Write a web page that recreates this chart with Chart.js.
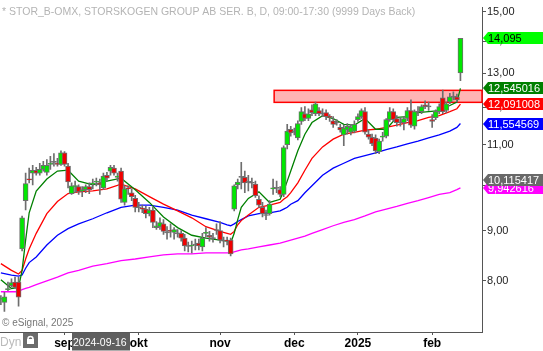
<!DOCTYPE html>
<html>
<head>
<meta charset="utf-8">
<title>STOR_B-OMX</title>
<script src="https://cdn.jsdelivr.net/npm/chart.js@4.4.1/dist/chart.umd.min.js"></script>
<style>
  html, body { margin: 0; padding: 0; background: #fff; }
  #wrap { width: 543px; height: 351px; position: relative; }
</style>
</head>
<body>
<div id="wrap"><canvas id="chart"></canvas></div>
<script>
// daily candles, one per trading day (index 0 = 2024-08-07, last = 2025-02-13)
const openPrices = [
  7.66, 7.61, 7.84, 7.91, 7.98, 7.98, 8.62, 9.65, 10.15, 10.29,
  10.36, 10.29, 10.38, 10.31, 10.50, 10.55, 10.53, 10.50, 10.79, 10.46,
  9.81, 9.97, 9.97, 9.87, 9.90, 9.97, 10.03, 10.08, 10.06, 9.94,
  10.24, 10.34, 10.41, 10.19, 10.34, 9.61, 9.94, 9.83, 9.70, 9.50,
  9.48, 9.46, 9.36, 9.44, 9.06, 9.08, 9.14, 8.96, 9.00, 8.96,
  8.94, 8.94, 8.84, 8.68, 8.68, 8.70, 8.74, 8.66, 8.94, 8.90,
  8.84, 9.00, 9.00, 8.78, 8.80, 8.80, 9.46, 10.01, 10.19, 10.19,
  10.08, 10.06, 10.03, 9.68, 9.50, 9.33, 9.36, 9.92, 9.94, 9.90,
  9.79, 11.00, 11.40, 11.32, 11.17, 11.61, 11.82, 11.69, 11.93, 11.82,
  11.91, 11.82, 11.85, 11.74, 11.63, 11.58, 11.45, 11.25, 11.38, 11.32,
  11.35, 11.66, 11.74, 11.88, 11.27, 11.19, 11.17, 10.82, 11.19, 11.22,
  11.66, 11.88, 11.69, 11.58, 11.58, 11.69, 11.91, 11.48, 11.88, 11.88,
  12.07, 12.02, 11.66, 11.71, 11.88, 12.27, 11.91, 12.15, 12.30, 12.30,
  13.00
];
const highPrices = [
  7.73, 7.79, 7.98, 8.04, 8.07, 8.07, 9.31, 10.29, 10.41, 10.48,
  10.43, 10.53, 10.58, 10.62, 10.70, 10.77, 10.65, 10.84, 10.82, 10.53,
  10.06, 10.10, 10.01, 9.97, 10.01, 10.06, 10.15, 10.17, 10.15, 10.29,
  10.31, 10.48, 10.48, 10.29, 10.41, 9.99, 9.99, 9.92, 9.77, 9.61,
  9.55, 9.52, 9.50, 9.50, 9.19, 9.27, 9.23, 9.08, 9.14, 9.06,
  9.02, 9.00, 8.92, 8.76, 8.78, 8.82, 8.82, 8.94, 9.06, 8.98,
  8.94, 9.14, 9.19, 8.86, 8.86, 8.84, 10.01, 10.15, 10.55, 10.34,
  10.24, 10.17, 10.10, 9.76, 9.61, 9.44, 9.65, 10.15, 10.10, 9.97,
  10.97, 11.53, 11.48, 11.43, 11.63, 11.99, 12.02, 11.96, 12.07, 12.15,
  11.99, 11.96, 11.93, 11.80, 11.74, 11.66, 11.53, 11.51, 11.55, 11.53,
  11.63, 11.82, 11.96, 11.99, 11.38, 11.27, 11.25, 11.14, 11.32, 11.69,
  11.99, 11.96, 11.77, 11.71, 11.74, 11.99, 12.21, 11.93, 12.02, 12.07,
  12.18, 12.15, 11.80, 11.93, 12.10, 12.49, 12.15, 12.40, 12.44, 12.38,
  14.10
];
const lowPrices = [
  7.57, 7.45, 7.82, 7.89, 7.86, 7.54, 8.58, 9.44, 10.06, 10.01,
  10.24, 10.24, 10.34, 10.24, 10.38, 10.46, 10.46, 10.48, 10.46, 9.94,
  9.79, 9.83, 9.79, 9.74, 9.83, 9.81, 9.92, 9.99, 9.79, 9.90,
  10.10, 10.24, 10.24, 10.10, 9.61, 9.55, 9.79, 9.65, 9.40, 9.40,
  9.38, 9.27, 9.31, 9.06, 9.02, 9.02, 8.92, 8.82, 8.86, 8.82,
  8.86, 8.78, 8.58, 8.56, 8.54, 8.60, 8.60, 8.58, 8.86, 8.78,
  8.76, 8.92, 8.74, 8.66, 8.70, 8.48, 9.42, 9.92, 9.92, 9.83,
  9.87, 9.94, 9.72, 9.50, 9.29, 9.23, 9.33, 9.79, 9.83, 9.74,
  9.74, 10.89, 11.22, 11.25, 11.12, 11.53, 11.63, 11.63, 11.77, 11.77,
  11.77, 11.74, 11.66, 11.61, 11.45, 11.51, 11.32, 10.97, 11.27, 11.25,
  11.30, 11.61, 11.69, 11.27, 11.14, 10.97, 10.77, 10.77, 11.09, 11.17,
  11.61, 11.61, 11.48, 11.48, 11.38, 11.63, 11.45, 11.40, 11.77, 11.82,
  11.96, 11.91, 11.45, 11.66, 11.82, 11.82, 11.85, 12.10, 12.21, 12.15,
  12.77
];
const closePrices = [
  7.68, 7.71, 7.86, 7.97, 7.88, 7.70, 9.27, 10.04, 10.13, 10.36,
  10.29, 10.38, 10.48, 10.48, 10.53, 10.56, 10.50, 10.79, 10.50, 10.08,
  9.99, 9.99, 9.85, 9.90, 9.97, 9.90, 10.06, 10.10, 10.01, 10.22,
  10.17, 10.43, 10.29, 10.22, 9.68, 9.92, 9.92, 9.74, 9.50, 9.49,
  9.46, 9.36, 9.44, 9.17, 9.10, 9.17, 8.98, 8.95, 8.98, 9.02,
  8.93, 8.84, 8.68, 8.67, 8.70, 8.71, 8.68, 8.84, 8.96, 8.86,
  8.83, 9.01, 8.80, 8.79, 8.78, 8.52, 9.99, 10.08, 10.20, 10.06,
  10.07, 10.05, 9.76, 9.55, 9.36, 9.32, 9.57, 9.94, 9.93, 9.79,
  10.92, 11.35, 11.30, 11.33, 11.55, 11.88, 11.69, 11.82, 11.85, 12.10,
  11.82, 11.81, 11.74, 11.72, 11.53, 11.57, 11.38, 11.43, 11.48, 11.45,
  11.53, 11.74, 11.91, 11.32, 11.19, 11.02, 10.84, 11.09, 11.22, 11.66,
  11.88, 11.66, 11.58, 11.57, 11.69, 11.91, 11.51, 11.88, 11.87, 12.02,
  12.02, 12.01, 11.61, 11.88, 12.02, 11.88, 12.10, 12.30, 12.29, 12.21,
  14.095
];

// moving averages, read at these candle indices
const maIndex = [
  0, 3, 5, 6, 7, 8, 10, 13, 16, 19, 22, 26, 30, 34, 38, 42, 46, 50, 54, 58,
  62, 64, 65, 66, 67, 68, 70, 73, 76, 79, 80, 81, 82, 84, 86, 88, 91, 94, 97, 100,
  103, 106, 109, 112, 115, 118, 121, 124, 127, 129, 130
];
const maGreen = [
  8.02, 7.86, 7.88, 8.20, 8.80, 9.38, 9.87, 10.15, 10.34, 10.36,
  10.10, 10.01, 10.10, 10.17, 9.90, 9.61, 9.29, 9.06, 8.90, 8.84,
  8.80, 8.78, 8.74, 8.94, 9.23, 9.50, 9.70, 9.85, 9.61, 9.68,
  9.87, 10.10, 10.34, 10.84, 11.27, 11.58, 11.77, 11.69, 11.53, 11.51,
  11.69, 11.40, 11.40, 11.72, 11.74, 11.85, 11.88, 11.91, 12.05, 12.15,
  12.545016
];
const maRed = [
  8.33, 8.20, 8.13, 8.20, 8.42, 8.62, 8.94, 9.36, 9.63, 9.81,
  9.85, 9.87, 9.92, 10.03, 9.92, 9.74, 9.57, 9.42, 9.27, 9.08,
  8.98, 8.94, 8.92, 8.98, 9.12, 9.21, 9.33, 9.50, 9.55, 9.61,
  9.68, 9.74, 9.83, 10.06, 10.36, 10.65, 10.94, 11.14, 11.27, 11.32,
  11.38, 11.40, 11.45, 11.51, 11.58, 11.63, 11.72, 11.77, 11.88, 11.96,
  12.091008
];
const maBlue = [
  8.15, 8.11, 8.09, 8.11, 8.24, 8.35, 8.46, 8.70, 8.90, 9.04,
  9.14, 9.25, 9.38, 9.50, 9.55, 9.55, 9.50, 9.44, 9.33, 9.25,
  9.17, 9.12, 9.10, 9.14, 9.19, 9.23, 9.31, 9.36, 9.38, 9.42,
  9.46, 9.50, 9.57, 9.65, 9.83, 9.99, 10.24, 10.41, 10.53, 10.65,
  10.72, 10.79, 10.87, 10.94, 11.02, 11.09, 11.17, 11.25, 11.35, 11.45,
  11.554569
];
const maMagenta = [
  7.80, 7.80, 7.80, 7.84, 7.86, 7.88, 7.93, 8.00, 8.07, 8.15,
  8.20, 8.28, 8.33, 8.39, 8.42, 8.46, 8.50, 8.52, 8.52, 8.54,
  8.54, 8.54, 8.54, 8.56, 8.58, 8.60, 8.62, 8.66, 8.70, 8.74,
  8.76, 8.78, 8.80, 8.84, 8.88, 8.94, 9.02, 9.10, 9.17, 9.23,
  9.31, 9.40, 9.46, 9.52, 9.59, 9.65, 9.72, 9.79, 9.83, 9.90,
  9.942616
];

const monthTickIndex = [18, 39, 62, 83, 101, 122];
const monthTickLabels = ['sep', 'okt', 'nov', 'dec', '2025', 'feb'];
const priceTicks = [8, 9, 10, 11, 12, 13, 14, 15];

// price tags on the right axis (drawn in this order)
const tagValues = [9.942616, 10.115417, 11.554569, 12.091008, 12.545016, 14.095];
const tagColors = ['#ff00ff', '#696969', '#0000ff', '#ff0000', '#008000', '#00ff00'];
const tagTextColors = ['#fff', '#fff', '#fff', '#fff', '#fff', '#000'];

// resistance zone
const zoneLow = 12.14;
const zoneHigh = 12.485;
const zoneStartIndex = 77.3;

const titleText = '* STOR_B-OMX, STORSKOGEN GROUP AB SER. B, D, 09:00-17:30 (9999 Days Back)';
const cursorDate = '2024-09-16';

const FONT = '"Liberation Sans", Arial, sans-serif';

const bodyColors = openPrices.map(function(o, i) {
  const c = closePrices[i];
  if (Math.abs(c - o) < 0.015) return '#707070';
  return c > o ? '#00e800' : '#f00000';
});

function maPoints(values) {
  return maIndex.map((x, j) => ({ x: x, y: values[j] }));
}

const overlayPlugin = {
  id: 'overlay',
  beforeDatasetsDraw(chart) {
    const ctx = chart.ctx;
    const xs = chart.scales.x, ys = chart.scales.y;
    const left = xs.getPixelForValue(zoneStartIndex);
    const right = chart.chartArea.right;
    const top = ys.getPixelForValue(zoneHigh);
    const bottom = ys.getPixelForValue(zoneLow);
    ctx.save();
    ctx.fillStyle = '#ffb4b4';
    ctx.fillRect(left, top, right - left, bottom - top);
    ctx.strokeStyle = '#ff0000';
    ctx.lineWidth = 1.5;
    ctx.strokeRect(left, top, right - left, bottom - top);
    ctx.restore();
  },
  afterDraw(chart) {
    const ctx = chart.ctx;
    const ys = chart.scales.y;
    const axisX = chart.chartArea.right;
    ctx.save();

    // title and copyright
    ctx.font = '10.5px ' + FONT;
    ctx.fillStyle = '#b4b4b4';
    ctx.textBaseline = 'alphabetic';
    ctx.fillText(titleText, 2, 15);
    ctx.font = '10px ' + FONT;
    ctx.fillStyle = '#777';
    ctx.fillText('\u00a9 eSignal, 2025', 2, 326);

    // price tags
    ctx.font = '11px ' + FONT;
    ctx.textBaseline = 'middle';
    tagValues.forEach(function(v, k) {
      const y = Math.round(ys.getPixelForValue(v));
      ctx.fillStyle = tagColors[k];
      ctx.beginPath();
      ctx.moveTo(axisX + 1, y);
      ctx.lineTo(axisX + 6, y - 6);
      ctx.lineTo(543, y - 6);
      ctx.lineTo(543, y + 6);
      ctx.lineTo(axisX + 6, y + 6);
      ctx.closePath();
      ctx.fill();
      ctx.fillStyle = tagTextColors[k];
      ctx.fillText(String(v).replace('.', ','), axisX + 6, y + 0.5);
    });

    // bottom-left widgets
    ctx.font = '12px ' + FONT;
    ctx.fillStyle = '#bbb';
    ctx.textBaseline = 'alphabetic';
    ctx.fillText('Dyn', 0, 346);
    ctx.fillStyle = '#6b6b6b';
    ctx.fillRect(23, 333, 15, 15);
    ctx.strokeStyle = '#fff';
    ctx.lineWidth = 1.5;
    ctx.beginPath();
    ctx.arc(30.5, 339, 2.5, Math.PI, 0);
    ctx.stroke();
    ctx.fillStyle = '#fff';
    ctx.fillRect(27, 339, 7, 5);

    // cursor date box
    ctx.fillStyle = '#5f5f5f';
    ctx.fillRect(72, 332.5, 58, 18);
    ctx.fillStyle = '#fff';
    ctx.font = '10.5px ' + FONT;
    ctx.fillText(cursorDate, 73, 346);
    ctx.restore();
  }
};

new Chart(document.getElementById('chart'), {
  type: 'bar',
  data: {
    datasets: [
      {
        type: 'bar',
        data: openPrices.map((o, i) => ({ x: i, y: [o, closePrices[i]] })),
        backgroundColor: bodyColors,
        borderColor: '#6e6e6e',
        borderWidth: 1,
        borderSkipped: false,
        barThickness: 5,
        minBarLength: 1,
        grouped: false
      },
      {
        type: 'bar',
        data: lowPrices.map((l, i) => ({ x: i, y: [l, highPrices[i]] })),
        backgroundColor: '#6e6e6e',
        barThickness: 1,
        grouped: false
      },
      { type: 'line', data: maPoints(maGreen), borderColor: '#008000', borderWidth: 1.3, pointRadius: 0, tension: 0 },
      { type: 'line', data: maPoints(maRed), borderColor: '#ff0000', borderWidth: 1.3, pointRadius: 0, tension: 0 },
      { type: 'line', data: maPoints(maBlue), borderColor: '#0000ff', borderWidth: 1.3, pointRadius: 0, tension: 0 },
      { type: 'line', data: maPoints(maMagenta), borderColor: '#ff00ff', borderWidth: 1.3, pointRadius: 0, tension: 0 }
    ]
  },
  options: {
    responsive: true,
    maintainAspectRatio: false,
    animation: false,
    layout: { padding: 0 },
    plugins: {
      legend: { display: false },
      tooltip: { enabled: false }
    },
    scales: {
      x: {
        type: 'linear',
        min: -0.25,
        max: 136.1,
        offset: false,
        grid: { offset: false, drawOnChartArea: false, tickLength: 3, color: '#555' },
        border: { display: true, color: '#555', width: 1 },
        afterBuildTicks: function(scale) {
          scale.ticks = monthTickIndex.map(v => ({ value: v }));
        },
        afterFit: function(scale) { scale.height = 19; },
        ticks: {
          autoSkip: false,
          maxRotation: 0,
          padding: 1,
          color: '#000',
          font: { family: FONT, size: 12, weight: 'bold' },
          callback: function(v) {
            const k = monthTickIndex.indexOf(v);
            return k >= 0 ? monthTickLabels[k] : '';
          }
        }
      },
      y: {
        type: 'logarithmic',
        position: 'right',
        min: 7.122,
        max: 15.147,
        beginAtZero: false,
        grid: { drawOnChartArea: false, tickLength: 4, color: '#555' },
        border: { display: true, color: '#555', width: 1 },
        afterBuildTicks: function(scale) {
          scale.ticks = priceTicks.map(v => ({ value: v }));
        },
        afterFit: function(scale) { scale.width = 61; },
        ticks: {
          autoSkip: false,
          padding: 1,
          color: '#222',
          font: { family: FONT, size: 11 },
          callback: function(v) { return v.toFixed(2).replace('.', ','); }
        }
      }
    }
  },
  plugins: [overlayPlugin]
});
</script>
</body>
</html>
